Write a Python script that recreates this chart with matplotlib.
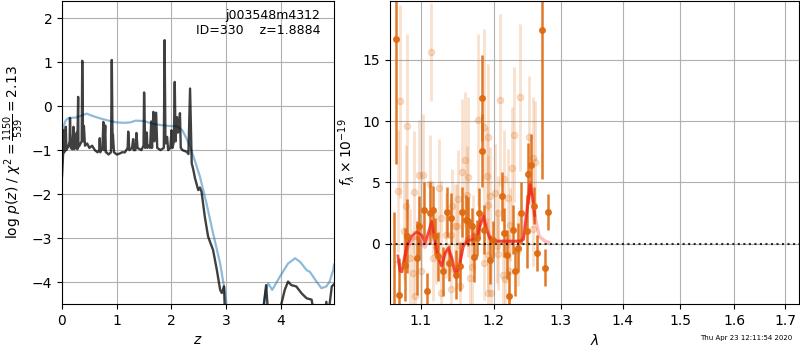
import matplotlib
matplotlib.use("Agg")
import matplotlib.pyplot as plt
from matplotlib.ticker import NullLocator

# --- left panel: log p(z) ---
z_pz = [0.00, 0.02, 0.03, 0.04, 0.06, 0.07, 0.08, 0.10, 0.12, 0.14, 0.146, 0.16, 0.19, 0.21,
        0.22, 0.24, 0.27, 0.28, 0.295, 0.30, 0.31, 0.34, 0.36, 0.37, 0.385, 0.40, 0.42, 0.46,
        0.50, 0.55, 0.60, 0.65, 0.68, 0.69, 0.70, 0.74, 0.755, 0.77, 0.79, 0.80, 0.81, 0.85,
        0.895, 0.91, 0.925, 0.93, 0.95, 1.00, 1.05, 1.10, 1.15, 1.20, 1.21, 1.23, 1.28, 1.30,
        1.31, 1.34, 1.36, 1.38, 1.45, 1.49, 1.50, 1.52, 1.55, 1.56, 1.58, 1.61, 1.63, 1.645,
        1.67, 1.69, 1.72, 1.74, 1.80, 1.86, 1.875, 1.89, 1.92, 1.94, 1.98, 2.00, 2.02, 2.045,
        2.06, 2.075, 2.10, 2.12, 2.14, 2.155, 2.17, 2.20, 2.28, 2.31, 2.34, 2.37, 2.40, 2.43,
        2.49, 2.52, 2.55, 2.61, 2.67, 2.76, 2.83, 2.89, 2.92, 2.96, 2.98, 3.10, 3.60, 3.66,
        3.73, 3.77, 3.95, 4.07, 4.13, 4.19, 4.28, 4.38, 4.47, 4.56, 4.62, 4.80, 4.83, 4.86,
        4.93, 4.97]
lnp_pz = [-1.60, -1.10, -0.55, -1.05, -0.95, -0.47, -1.00, -0.95, -0.90, -0.80, -0.27, -0.95,
          -0.98, -0.47, -0.98, -0.95, -0.60, -0.98, 0.21, -0.90, -0.92, -0.85, -0.80, 1.03,
          -0.80, -0.45, -0.90, -0.85, -0.95, -0.90, -1.00, -1.05, -1.00, -0.73, -1.05, -0.95,
          -0.36, -1.00, -0.44, -1.05, -1.05, -1.10, -1.05, 1.05, -0.95, -0.65, -1.05, -1.10,
          -1.08, -1.05, -1.05, -0.95, -0.58, -1.00, -0.95, -0.75, -1.00, -1.00, -0.61, -0.95,
          -1.00, -0.90, 0.31, -0.95, -0.60, -0.95, -0.90, -0.95, -0.35, -0.95, -0.13, -0.80,
          -0.15, -0.95, -1.00, -0.95, 1.50, -0.85, -0.70, -1.00, -0.95, -0.55, -0.95, -0.80,
          0.55, -0.80, -0.25, -0.60, -0.45, -0.16, -0.95, -1.00, -1.04, -1.09, 0.40, -1.30,
          -1.45, -1.64, -1.91, -1.85, -1.95, -2.52, -2.97, -3.27, -3.73, -4.18, -4.25, -4.10,
          -4.80, -6.00, -6.00, -4.80, -4.07, -4.80, -4.80, -4.18, -3.99, -4.07, -4.10, -4.26,
          -4.37, -4.40, -4.80, -4.80, -4.45, -4.80, -4.10, -4.05]

z_prior = [0.00, 0.03, 0.07, 0.12, 0.25, 0.35, 0.45, 0.55, 0.70, 0.85, 1.00, 1.15, 1.25, 1.35,
           1.50, 1.65, 1.80, 1.95, 2.10, 2.20, 2.28, 2.34, 2.43, 2.52, 2.64, 2.76, 2.89, 2.98,
           3.05, 3.65, 3.72, 3.77, 3.84, 3.98, 4.13, 4.26, 4.35, 4.47, 4.53, 4.65, 4.74, 4.83,
           4.89, 4.955, 4.97]
lnp_prior = [-0.60, -0.45, -0.32, -0.27, -0.26, -0.22, -0.17, -0.22, -0.28, -0.33, -0.37, -0.38,
             -0.37, -0.33, -0.34, -0.40, -0.43, -0.45, -0.46, -0.55, -0.75, -0.92, -1.25, -1.60,
             -2.21, -2.89, -3.58, -4.25, -5.00, -5.00, -4.20, -4.03, -4.18, -3.88, -3.58, -3.46,
             -3.54, -3.73, -3.77, -3.99, -4.14, -4.10, -3.99, -3.73, -3.60]

# --- right panel: spectrum ---
wave_hi = [1.0674, 1.0650, 1.0718, 1.0791, 1.0821, 1.0943, 1.0978, 1.1044, 1.1083, 1.1119,
           1.1155, 1.1185, 1.1230, 1.1298, 1.1343, 1.1375, 1.1402, 1.1471, 1.1527, 1.1560,
           1.1609, 1.1641, 1.1690, 1.1723, 1.1762, 1.1795, 1.1830, 1.1838, 1.1864, 1.1948,
           1.1995, 1.2116, 1.2150, 1.2190, 1.2228, 1.2277, 1.2315, 1.2351, 1.2396, 1.2484,
           1.2508, 1.2544, 1.2598, 1.2643, 1.2711, 1.2760, 1.2811]
flux_hi = [16.68, -5.6, -4.16, -1.71, 0.60, -1.17, 1.41, 2.72, -3.88, 2.50,
           2.72, 0.60, -1.03, -2.25, 2.58, -1.58, 2.09, -2.53, -1.85, 2.58,
           1.96, 1.82, 1.41, -1.12, 0.46, 2.50, 11.87, 7.58, 1.14, -1.30,
           0.33, 3.86, 0.87, -0.90, -4.24, 1.14, -2.25, -0.35, 2.50, 1.00,
           5.70, 6.44, 3.10, -0.76, 17.44, -1.98, 2.58]
err_hi = [10.2, 8.2, 3.0, 3.0, 3.0, 3.0, 2.5, 2.3, 1.5, 2.5,
          2.0, 1.5, 2.0, 2.0, 2.0, 1.5, 2.0, 2.0, 2.0, 2.0,
          2.0, 2.0, 1.5, 2.0, 1.5, 2.0, 3.5, 3.0, 2.0, 2.0,
          1.5, 2.0, 2.0, 2.0, 2.0, 2.0, 2.0, 2.0, 2.5, 3.0,
          2.5, 2.5, 1.5, 1.5, 12.2, 1.5, 1.5]

wave_lo = [1.0731, 1.0821, 1.1129, 1.0701, 1.0970, 1.1022, 1.0908, 1.1115, 1.1240, 1.0800,
           1.0778, 1.0856, 1.0895, 1.0996, 1.1159, 1.1195, 1.1271, 1.1338, 1.1407, 1.1453,
           1.1416, 1.1398, 1.1271, 1.0917, 1.1595, 1.1560, 1.1641, 1.1781, 1.1866, 1.1915,
           1.2092, 1.2300, 1.2272, 1.2389, 1.1900, 1.1627, 1.1503, 1.1948, 1.2019, 1.1915,
           1.2057, 1.2152, 1.2210, 1.2235, 1.1480, 1.1711, 1.1923, 1.1866, 1.2043, 1.2066,
           1.2139, 1.2164, 1.2221, 1.1923, 1.1962, 1.1527, 1.1666, 1.1690, 1.2355, 1.2524,
           1.2572, 1.2605, 1.2581]
flux_lo = [11.6, 9.6, 15.6, 4.3, 5.6, 5.6, 4.2, 4.9, 4.5, 3.05,
           1.0, -1.2, -2.4, -2.25, -1.2, -0.3, 2.1, 0.67, 0.67, 1.4,
           3.05, -3.7, -4.0, -4.3, 6.85, 5.84, 5.43, 10.1, 9.5, 8.7,
           11.74, 8.88, 6.16, 11.95, 5.48, 4.0, 3.6, 3.86, 4.13, 3.18,
           2.5, 5.3, 3.7, 1.55, 1.4, 1.0, -0.9, -1.58, -0.2, -0.82,
           -2.53, -2.9, -2.2, -4.0, -4.0, -3.5, -2.8, -1.9, -0.5, 8.7,
           6.98, 6.66, 1.2]
err_lo = [7.9, 7.5, 4.0, 5.0, 4.5, 5.0, 5.0, 4.0, 4.0, 5.0,
          4.0, 4.0, 3.5, 3.0, 3.5, 3.0, 3.0, 3.5, 3.0, 3.5,
          3.0, 3.0, 3.0, 3.5, 5.5, 6.0, 6.5, 7.0, 8.0, 6.0,
          7.0, 5.5, 5.0, 6.0, 4.0, 4.0, 4.0, 4.0, 4.0, 4.0,
          3.0, 4.0, 4.0, 3.0, 3.5, 3.0, 3.0, 3.0, 3.0, 3.0,
          3.0, 3.0, 3.0, 3.0, 3.0, 3.0, 3.0, 3.0, 3.0, 5.0,
          5.0, 5.0, 3.0]

wave_model = [1.0701, 1.0727, 1.0753, 1.0813, 1.0878, 1.0943, 1.1009, 1.1053, 1.1097, 1.1142,
              1.1185, 1.1230, 1.1276, 1.1321, 1.1366, 1.1412, 1.1471, 1.1527, 1.1572, 1.1627,
              1.1690, 1.1762, 1.1805, 1.1852, 1.1900, 1.1948, 1.2019, 1.2139, 1.2286, 1.2386,
              1.2434, 1.2484, 1.2534, 1.2572, 1.2605]
flux_model = [-1.0, -2.25, -2.3, -0.2, 0.6, 0.95, 0.7, 0.05, 0.9, 1.82,
              0.33, -1.2, -1.85, -0.77, -0.35, -1.17, -2.8, -1.58, -0.2, 0.19,
              0.33, 0.46, 1.4, 2.23, 1.14, 0.33, 0.19, 0.19, 0.19, 0.2,
              0.33, 2.5, 4.8, 3.7, 2.3]

wave_model2 = [1.0701, 1.0753, 1.0813, 1.0878, 1.0943, 1.1009, 1.1053, 1.1097, 1.1142, 1.1185,
               1.1230, 1.1276, 1.1321, 1.1366, 1.1412, 1.1471, 1.1527, 1.1572, 1.1627, 1.1690,
               1.1762, 1.1805, 1.1852, 1.1900, 1.1948, 1.2019, 1.2139, 1.2286, 1.2386, 1.2434,
               1.2484, 1.2534, 1.2572, 1.2605, 1.2672, 1.2760, 1.2811]
flux_model2 = [-1.5, -2.0, -0.5, 0.3, 0.5, 0.0, -0.3, 0.6, 1.14, 0.0,
               -1.0, -1.6, -0.9, -0.5, -1.2, -2.5, -1.2, -0.1, 0.4, 0.6,
               1.0, 1.8, 2.4, 1.4, 0.5, 0.25, 0.2, 0.2, 0.2, 0.5,
               2.8, 4.95, 3.0, 2.2, 0.6, 0.19, 0.1]

wave_ticks = [1.1, 1.2, 1.3, 1.4, 1.5, 1.6, 1.7]

fig = plt.figure(figsize=(8, 3.5), dpi=100)
ax1 = fig.add_axes([0.0775, 0.1314, 0.34, 0.8657])
ax2 = fig.add_axes([0.4875, 0.1314, 0.51125, 0.8657])

ax1.plot(z_prior, lnp_prior, color='tab:blue', alpha=0.5, lw=1.6)
ax1.plot(z_pz, lnp_pz, color='k', alpha=0.75, lw=1.7)
ax1.set_xlim(0, 4.97)
ax1.set_ylim(-4.5, 2.39)
ax1.set_xticks([0, 1, 2, 3, 4])
ax1.set_yticks([-4, -3, -2, -1, 0, 1, 2])
ax1.grid(True)
ax1.set_xlabel('$z$')
ax1.set_ylabel(r'log $p(z)$ / $\chi^2=\frac{1150}{539}=2.13$')
ax1.text(0.95, 0.975, 'j003548m4312\nID=330    z=1.8884', transform=ax1.transAxes,
         ha='right', va='top', fontsize=9)

orange = '#de6a10'
ax2.errorbar(wave_lo, flux_lo, yerr=err_lo, color=orange, alpha=0.2, marker='o',
             linestyle='none', markersize=4.5, elinewidth=2)
ax2.errorbar(wave_hi, flux_hi, yerr=err_hi, color=orange, alpha=0.9, marker='o',
             linestyle='none', markersize=4, elinewidth=1.8)
ax2.plot(wave_model2, flux_model2, color='r', alpha=0.25, lw=2.5)
ax2.plot(wave_model, flux_model, color='#f02a1a', alpha=0.8, lw=2)
ax2.axhline(0, color='k', linestyle=':', lw=1.5, alpha=0.8)
ax2.set_xscale('log')
ax2.set_xlim(1.06, 1.7288)
ax2.set_ylim(-4.93, 19.8)
ax2.set_xticks(wave_ticks)
ax2.set_xticklabels([str(t) for t in wave_ticks])
ax2.xaxis.set_minor_locator(NullLocator())
ax2.set_yticks([0, 5, 10, 15])
ax2.grid(True)
ax2.set_xlabel(r'$\lambda$')
ax2.set_ylabel(r'$f_\lambda \times 10^{-19}$')

fig.text(0.99, 0.025, 'Thu Apr 23 12:11:54 2020', ha='right', va='bottom', fontsize=5)

plt.savefig('out.png', dpi=100)
